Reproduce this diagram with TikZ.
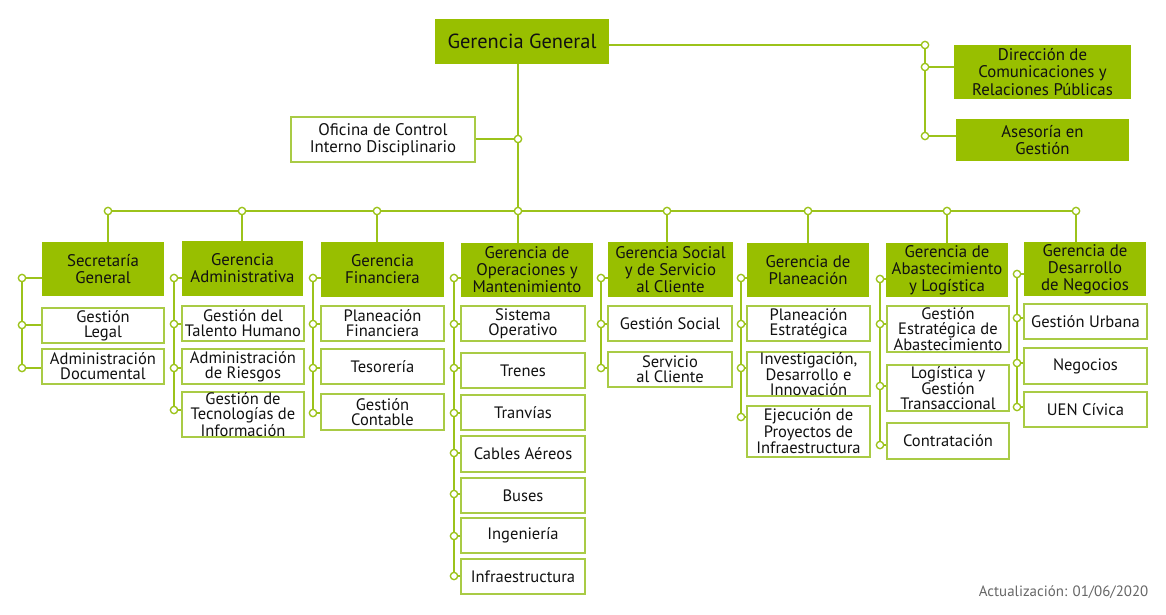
\documentclass[tikz,border=0pt]{standalone}
\usepackage{fontspec}
\setmainfont{PT Sans}
\usetikzlibrary{backgrounds}
\definecolor{gfill}{HTML}{98BF00}
\definecolor{gline}{HTML}{9CC31B}
\definecolor{gbord}{HTML}{A9CB45}
\definecolor{txt}{HTML}{111111}
\tikzset{
  hdr/.style={rectangle, fill=gfill, inner sep=0pt, align=center, text=txt, font=\fontsize{12.6}{12.8}\selectfont},
  chl/.style={rectangle, fill=white, draw=gbord, line width=1.5pt, inner sep=0pt, align=center, text=txt, font=\fontsize{12.4}{11.2}\selectfont},
  dot/.style={circle, draw=gline, fill=white, line width=1pt, minimum size=5.5pt, inner sep=0pt},
  spine/.style={draw=gline, line width=2.2pt},
  bus/.style={draw=gline, line width=1.5pt},
}
\newcommand\bx[7]{\node[#2, minimum width={(#5-#3)*0.75}, minimum height={(#6-#4)*0.75}] (#1) at ({(#3+#5)/2},{(#4+#6)/2}) {#7};}
\newcommand\dt[3]{\node[dot] (#1) at (#2,#3) {};}
\newcommand\br[2]{\draw[spine] (#1) -- (#1 -| #2.west);}
\begin{document}
\begin{tikzpicture}[x=0.75pt,y=-0.75pt]
\useasboundingbox (0,0) rectangle (1166,614);
% top level
\bx{gg}{hdr, font=\fontsize{15.3}{18}\selectfont}{435}{19}{609}{64}{Gerencia General}
\bx{ofi}{chl, font=\fontsize{12.6}{13}\selectfont}{291}{117}{475}{162}{Oficina de Control\\Interno Disciplinario}
\bx{dir}{hdr}{954}{45}{1131}{99}{Dirección de\\Comunicaciones y\\Relaciones Públicas}
\bx{ase}{hdr}{956}{119}{1129}{161}{Asesoría en\\Gestión}
\dt{od}{518}{139}
\dt{rd1}{925}{45}
\dt{rd2}{925}{67}
\dt{rd3}{925}{136}
% headers
\bx{h1}{hdr}{42}{242}{164}{296}{Secretaría\\General}
\bx{h2}{hdr}{182}{241}{303}{296}{Gerencia\\Administrativa}
\bx{h3}{hdr}{321}{242}{444}{297}{Gerencia\\Financiera}
\bx{h4}{hdr}{461}{243}{593}{297}{Gerencia de\\Operaciones y\\Mantenimiento}
\bx{h5}{hdr}{608}{242}{733}{297}{Gerencia Social\\y de Servicio\\al Cliente}
\bx{h6}{hdr}{747}{243}{869}{297}{Gerencia de\\Planeación}
\bx{h7}{hdr}{886}{243}{1008}{297}{Gerencia de\\Abastecimiento\\y Logística}
\bx{h8}{hdr}{1024}{242}{1146}{296}{Gerencia de\\Desarrollo\\de Negocios}
% bus dots
\dt{b1}{108}{211}
\dt{b2}{242}{211}
\dt{b3}{377}{211}
\dt{b4}{518}{211}
\dt{b5}{667}{211}
\dt{b6}{808}{211}
\dt{b7}{947}{211}
\dt{b8}{1076}{211}
% column 1
\bx{c11}{chl}{42}{308}{164}{343}{Gestión\\Legal}
\bx{c12}{chl}{42}{349}{164}{384}{Administración\\Documental}
\dt{s10}{22}{278}\dt{s11}{22}{325}\dt{s12}{22}{368}
% column 2
\bx{c21}{chl}{182}{306}{304}{341}{Gestión del\\Talento Humano}
\bx{c22}{chl}{182}{349}{304}{384}{Administración\\de Riesgos}
\bx{c23}{chl}{182}{392}{304}{437}{Gestión de\\Tecnologías de\\Información}
\dt{s20}{174}{278}\dt{s21}{174}{324}\dt{s22}{174}{368}\dt{s23}{174}{410}
% column 3
\bx{c31}{chl}{321}{306}{444}{341}{Planeación\\Financiera}
\bx{c32}{chl}{321}{349}{444}{384}{Tesorería}
\bx{c33}{chl}{321}{394}{444}{430}{Gestión\\Contable}
\dt{s30}{313}{278}\dt{s31}{313}{324}\dt{s32}{313}{368}\dt{s33}{313}{413}
% column 4
\bx{c41}{chl}{461}{306}{585}{341}{Sistema\\Operativo}
\bx{c42}{chl}{461}{353}{585}{388}{Trenes}
\bx{c43}{chl}{461}{395}{585}{430}{Tranvías}
\bx{c44}{chl}{461}{436}{585}{472}{Cables Aéreos}
\bx{c45}{chl}{461}{478}{585}{513}{Buses}
\bx{c46}{chl}{461}{518}{585}{553}{Ingeniería}
\bx{c47}{chl}{461}{559}{585}{594}{Infraestructura}
\dt{s40}{454}{278}\dt{s41}{454}{324}\dt{s42}{454}{368}\dt{s43}{454}{413}
\dt{s44}{454}{453}\dt{s45}{454}{494}\dt{s46}{454}{536}\dt{s47}{454}{576}
% column 5
\bx{c51}{chl}{608}{306}{732}{341}{Gestión Social}
\bx{c52}{chl}{608}{352}{732}{387}{Servicio\\al Cliente}
\dt{s50}{601}{278}\dt{s51}{601}{324}\dt{s52}{601}{368}
% column 6
\bx{c61}{chl}{747}{306}{870}{341}{Planeación\\Estratégica}
\bx{c62}{chl}{747}{352}{870}{396}{Investigación,\\Desarrollo e\\Innovación}
\bx{c63}{chl}{747}{406}{870}{457}{Ejecución de\\Proyectos de\\Infraestructura}
\dt{s60}{741}{278}\dt{s61}{741}{324}\dt{s62}{741}{368}\dt{s63}{741}{417}
% column 7
\bx{c71}{chl}{887}{306}{1009}{352}{Gestión\\Estratégica de\\Abastecimiento}
\bx{c72}{chl}{887}{365}{1009}{411}{Logística y\\Gestión\\Transaccional}
\bx{c73}{chl}{887}{423}{1009}{459}{Contratación}
\dt{s70}{880}{279}\dt{s71}{880}{324}\dt{s72}{880}{386}\dt{s73}{880}{445}
% column 8
\bx{c81}{chl}{1024}{304}{1147}{339}{Gestión Urbana}
\bx{c82}{chl}{1024}{348}{1147}{384}{Negocios}
\bx{c83}{chl}{1024}{392}{1147}{427}{UEN Cívica}
\dt{s80}{1017}{274}\dt{s81}{1017}{318}\dt{s82}{1017}{363}\dt{s83}{1017}{407}
% footer
\node[anchor=east, text=black!60, font=\fontsize{11.2}{13}\selectfont] (upd) at (1153,592) {Actualización: 01/06/2020};
% connectors
\begin{pgfonlayer}{background}
\draw[bus] (b4) -- (b4 |- gg.south);
\draw[spine] (ofi.east |- od) -- (od);
\draw[spine] (rd1) -- (rd1 -| gg.east);
\draw[spine] (rd1) -- (rd3);
\br{rd2}{dir}\br{rd3}{ase}
\draw[bus] (b1) -- (b8);
\foreach \i in {1,...,8} {\draw[spine] (b\i) -- (b\i |- h\i.north);}
\draw[spine] (s10) -- (s12); \br{s10}{h1}\br{s11}{c11}\br{s12}{c12}
\draw[spine] (s20) -- (s23); \br{s20}{h2}\br{s21}{c21}\br{s22}{c22}\br{s23}{c23}
\draw[spine] (s30) -- (s33); \br{s30}{h3}\br{s31}{c31}\br{s32}{c32}\br{s33}{c33}
\draw[spine] (s40) -- (s47); \br{s40}{h4}\br{s41}{c41}\br{s42}{c42}\br{s43}{c43}\br{s44}{c44}\br{s45}{c45}\br{s46}{c46}\br{s47}{c47}
\draw[spine] (s50) -- (s52); \br{s50}{h5}\br{s51}{c51}\br{s52}{c52}
\draw[spine] (s60) -- (s63); \br{s60}{h6}\br{s61}{c61}\br{s62}{c62}\br{s63}{c63}
\draw[spine] (s70) -- (s73); \br{s70}{h7}\br{s71}{c71}\br{s72}{c72}\br{s73}{c73}
\draw[spine] (s80) -- (s83); \br{s80}{h8}\br{s81}{c81}\br{s82}{c82}\br{s83}{c83}
\end{pgfonlayer}
\end{tikzpicture}
\end{document}
